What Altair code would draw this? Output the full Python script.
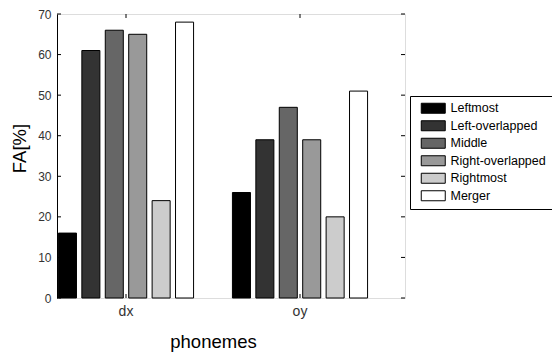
import altair as alt
import pandas as pd

phonemes = ["dx", "oy"]
types = ["Leftmost", "Left-overlapped", "Middle", "Right-overlapped", "Rightmost", "Merger"]
dx_vals = [16, 61, 66, 65, 24, 68]
oy_vals = [26, 39, 47, 39, 20, 51]
colors = ["#000000", "#333333", "#666666", "#999999", "#cccccc", "#ffffff"]
y_ticks = [0, 10, 20, 30, 40, 50, 60, 70]

rows = []
for p, vals in zip(phonemes, [dx_vals, oy_vals]):
    for t, v in zip(types, vals):
        rows.append({"phoneme": p, "type": t, "FA": v})
df = pd.DataFrame(rows)
ticks_df = pd.DataFrame({"v": y_ticks})
cat_df = pd.DataFrame({"phoneme": phonemes})

W, H = 348, 284
FONT = "Liberation Sans"

xscale = alt.Scale(domain=phonemes, paddingInner=0, paddingOuter=0, range=[-18, 330])
yscale = alt.Scale(domain=[0, 70], nice=False, zero=True)

bars = alt.Chart(df).mark_bar(stroke="black", strokeWidth=1).encode(
    x=alt.X("phoneme:N", scale=xscale, sort=phonemes,
            axis=alt.Axis(title="phonemes", labelAngle=0, ticks=False, domain=False,
                          labelPadding=6, labelFontSize=14, labelColor="#333333",
                          titleFontSize=18.5, titleFont=FONT, labelFont=FONT,
                          titleFontWeight="normal", titleColor="black",
                          titleY=43, titleBaseline="middle")),
    xOffset=alt.XOffset("type:N", sort=types,
                        scale=alt.Scale(domain=types, paddingInner=0.23, paddingOuter=0.83)),
    y=alt.Y("FA:Q", scale=yscale,
            axis=alt.Axis(title="FA[%]", values=y_ticks, ticks=False, labelPadding=6,
                          labelFontSize=12, labelColor="#333333", titleFontSize=18.5,
                          titleFont=FONT, labelFont=FONT, titleFontWeight="normal",
                          titleColor="black",
                          titleX=-38, titleY=134, titleBaseline="middle",
                          domainColor="black", grid=False)),
    fill=alt.Fill("type:N", sort=types,
                  scale=alt.Scale(domain=types, range=colors),
                  legend=alt.Legend(title=None, orient="none", legendX=353, legendY=82,
                                    symbolType="M-0.2,-1H4.6V1H-0.2Z", symbolSize=100,
                                    symbolStrokeColor="black", symbolStrokeWidth=1,
                                    labelFont=FONT, labelFontSize=12.5, labelColor="black",
                                    labelOffset=22, rowPadding=2.5, padding=6,
                                    strokeColor="black", fillColor="white")),
)

lt = alt.Chart(ticks_df).mark_rule(color="black").encode(
    y=alt.Y("v:Q", scale=yscale), x=alt.value(0), x2=alt.value(4))
rt = alt.Chart(ticks_df).mark_rule(color="black").encode(
    y=alt.Y("v:Q", scale=yscale), x=alt.value(W), x2=alt.value(W - 4))
tt = alt.Chart(cat_df).mark_rule(color="black").encode(
    x=alt.X("phoneme:N", scale=xscale, sort=phonemes), y=alt.value(0), y2=alt.value(4))
bt = alt.Chart(cat_df).mark_rule(color="black").encode(
    x=alt.X("phoneme:N", scale=xscale, sort=phonemes), y=alt.value(H), y2=alt.value(H - 4))

chart = alt.layer(bars, lt, rt, tt, bt).properties(
    width=W, height=H,
    autosize=alt.AutoSizeParams(type="none"),
    padding={"left": 57, "top": 14, "right": 147, "bottom": 55},
).configure_view(stroke="black", strokeWidth=1).configure(background="white")

chart.save("out.html", embed_options={"renderer": "svg", "actions": False})
